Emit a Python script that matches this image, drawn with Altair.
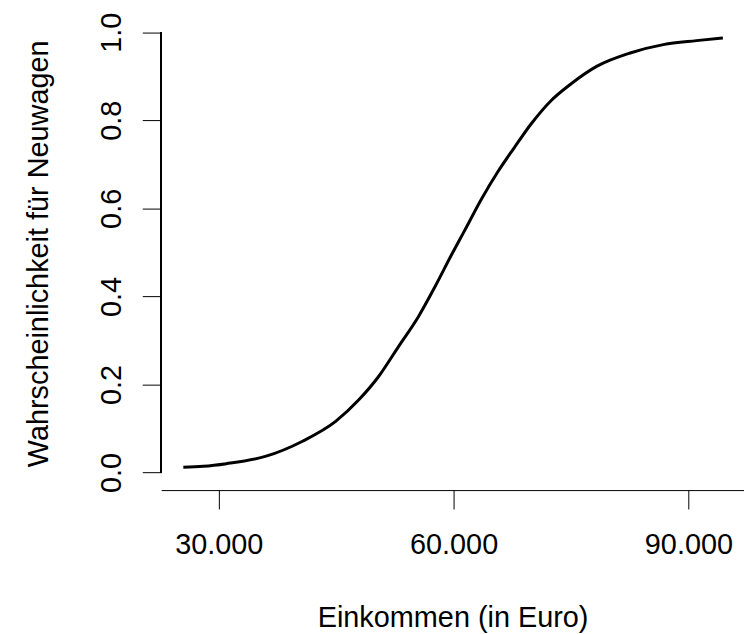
import altair as alt
import pandas as pd

# Values
income = [25470, 28010, 30980, 36050, 40700, 44930, 47890, 50420, 52960,
          55500, 57620, 59720, 61420, 63530, 65650, 67760, 69870, 72410,
          74940, 78330, 82560, 86790, 91020, 94400]
prob = [0.012, 0.014, 0.020, 0.037, 0.071, 0.116, 0.165, 0.218, 0.286,
        0.354, 0.422, 0.494, 0.550, 0.620, 0.683, 0.738, 0.791, 0.844,
        0.882, 0.923, 0.953, 0.972, 0.981, 0.987]

x_ticks = [30000, 60000, 90000]
y_ticks = [0.0, 0.2, 0.4, 0.6, 0.8, 1.0]
x_domain = [22640, 97100]
y_domain = [-0.04, 1.04]

df = pd.DataFrame({"income": income, "prob": prob})

FONT = "Liberation Sans"
FS = 29

xscale = alt.Scale(domain=x_domain, nice=False, zero=False)
yscale = alt.Scale(domain=y_domain, nice=False, zero=False)

line = alt.Chart(df).mark_line(color="black", strokeWidth=3, interpolate="monotone").encode(
    x=alt.X("income:Q", scale=xscale,
            axis=alt.Axis(
                title="Einkommen (in Euro)",
                values=x_ticks,
                labelExpr="replace(format(datum.value, ','), ',', '.')",
                grid=False, domain=True, domainColor="black", domainWidth=1,
                ticks=True, tickColor="black", tickWidth=1, tickSize=19,
                labelFont=FONT, labelFontSize=FS, labelColor="black",
                labelPadding=22, labelFlush=False,
                titleFont=FONT, titleFontSize=FS, titleFontWeight="normal",
                titleColor="black", titleBaseline="alphabetic", titleY=137,
            )),
    y=alt.Y("prob:Q", scale=yscale,
            axis=alt.Axis(
                title="Wahrscheinlichkeit für Neuwagen",
                values=y_ticks, format=".1f",
                grid=False, domain=False,
                ticks=True, tickColor="black", tickWidth=1, tickSize=19,
                labelFont=FONT, labelFontSize=FS, labelColor="black",
                labelAngle=270, labelAlign="center", labelBaseline="alphabetic",
                labelPadding=22, labelFlush=False,
                titleFont=FONT, titleFontSize=FS, titleFontWeight="normal",
                titleColor="black", titleAngle=270, titleBaseline="alphabetic",
                titleX=-114, titleY=240, titleAlign="center",
            )),
)

yaxis_line = alt.Chart(df).mark_rule(color="black", strokeWidth=1).encode(
    x=alt.value(0),
    y=alt.datum(y_ticks[0], scale=yscale),
    y2=alt.datum(y_ticks[-1]),
)

chart = alt.layer(line, yaxis_line).properties(
    width=586,
    height=478,
    autosize=alt.AutoSizeParams(type="none"),
    padding={"left": 154, "top": 5, "right": 0, "bottom": 143},
).configure(background="white", view=alt.ViewConfig(stroke=None))

chart.save("out.html", embed_options={"renderer": "svg", "actions": False})
